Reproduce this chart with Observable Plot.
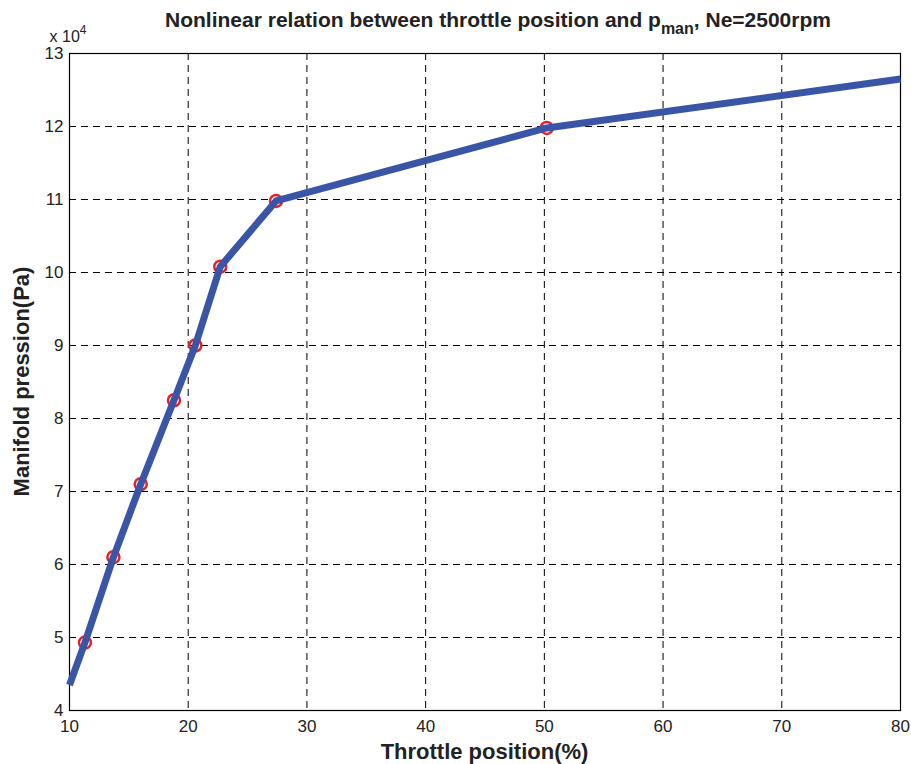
<!DOCTYPE html>
<html>
<head>
<meta charset="utf-8">
<script src="https://cdn.jsdelivr.net/npm/d3@7"></script>
<script src="https://cdn.jsdelivr.net/npm/@observablehq/plot@0.6"></script>
<style>
  html, body { margin: 0; padding: 0; background: #fff; }
</style>
</head>
<body>
<div id="chart"></div>
<script>
// Measured points (red circles)
const throttle = [11.3, 13.7, 16.0, 18.8, 20.6, 22.7, 27.4, 50.2];
const pressure = [4.93, 6.10, 7.10, 8.25, 9.00, 10.08, 10.98, 11.98];
// Interpolation curve (blue line), including end points
const lineThrottle = [10, 11.3, 13.7, 16.0, 18.8, 20.6, 22.7, 27.4, 50.2, 80];
const linePressure = [4.35, 4.93, 6.10, 7.10, 8.25, 9.00, 10.08, 10.98, 11.98, 12.65];
const xTicks = [10, 20, 30, 40, 50, 60, 70, 80];
const yTicks = [4, 5, 6, 7, 8, 9, 10, 11, 12, 13];

const points = throttle.map((x, i) => ({x, y: pressure[i]}));
const curve = lineThrottle.map((x, i) => ({x, y: linePressure[i]}));

const W = 911, H = 764;
const chart = Plot.plot({
  width: W,
  height: H,
  marginLeft: 69,
  marginRight: 11,
  marginTop: 53,
  marginBottom: 54,
  style: {fontFamily: "Liberation Sans, Arial, sans-serif", fontSize: "17px", background: "#fff", color: "#222"},
  x: {domain: [10, 80], ticks: xTicks},
  y: {domain: [4, 13], ticks: yTicks},
  marks: [
    Plot.gridX(xTicks, {stroke: "#000", strokeOpacity: 1, strokeWidth: 1, strokeDasharray: "7,5"}),
    Plot.gridY(yTicks, {stroke: "#000", strokeOpacity: 1, strokeWidth: 1, strokeDasharray: "7,5"}),
    Plot.axisX(xTicks, {tickSize: 0, tickPadding: 9, fontSize: 17, label: null, tickFormat: d => String(d), fill: "#222"}),
    Plot.axisY(yTicks, {tickSize: 0, tickPadding: 6, fontSize: 17, label: null, tickFormat: d => String(d), fill: "#222"}),
    Plot.frame({stroke: "#000", strokeWidth: 1.2}),
    Plot.dot(points, {x: "x", y: "y", r: 6, stroke: "#e8202a", strokeWidth: 2.5, fill: "none"}),
    Plot.line(curve, {x: "x", y: "y", stroke: "#3a55a6", strokeWidth: 7, strokeLinejoin: "round", strokeLinecap: "butt"})
  ]
});

const svg = d3.select(chart);
// Axis labels
svg.append("text")
  .attr("x", 69 + (911 - 69 - 11) / 2).attr("y", 759)
  .attr("text-anchor", "middle")
  .style("font-size", "22px").style("font-weight", "bold").attr("fill", "#222")
  .text("Throttle position(%)");
svg.append("text")
  .attr("transform", `translate(29, ${53 + (764 - 53 - 54) / 2}) rotate(-90)`)
  .attr("text-anchor", "middle")
  .style("font-size", "22px").style("font-weight", "bold").attr("fill", "#222")
  .text("Manifold pression(Pa)");
// Title with subscript
const title = svg.append("text")
  .attr("x", 498).attr("y", 27)
  .attr("text-anchor", "middle")
  .style("font-size", "21px").style("font-weight", "bold").attr("fill", "#222");
title.append("tspan").text("Nonlinear relation between throttle position and p");
title.append("tspan").attr("dy", 7).style("font-size", "16px").text("man");
title.append("tspan").attr("dy", -7).text(", Ne=2500rpm");
// Exponent label
const expo = svg.append("text")
  .attr("x", 68).attr("y", 42)
  .style("font-size", "16px").attr("fill", "#222");
expo.append("tspan").text("x 10");
expo.append("tspan").attr("dy", -8).style("font-size", "12px").text("4");

document.getElementById("chart").appendChild(chart);
</script>
</body>
</html>
